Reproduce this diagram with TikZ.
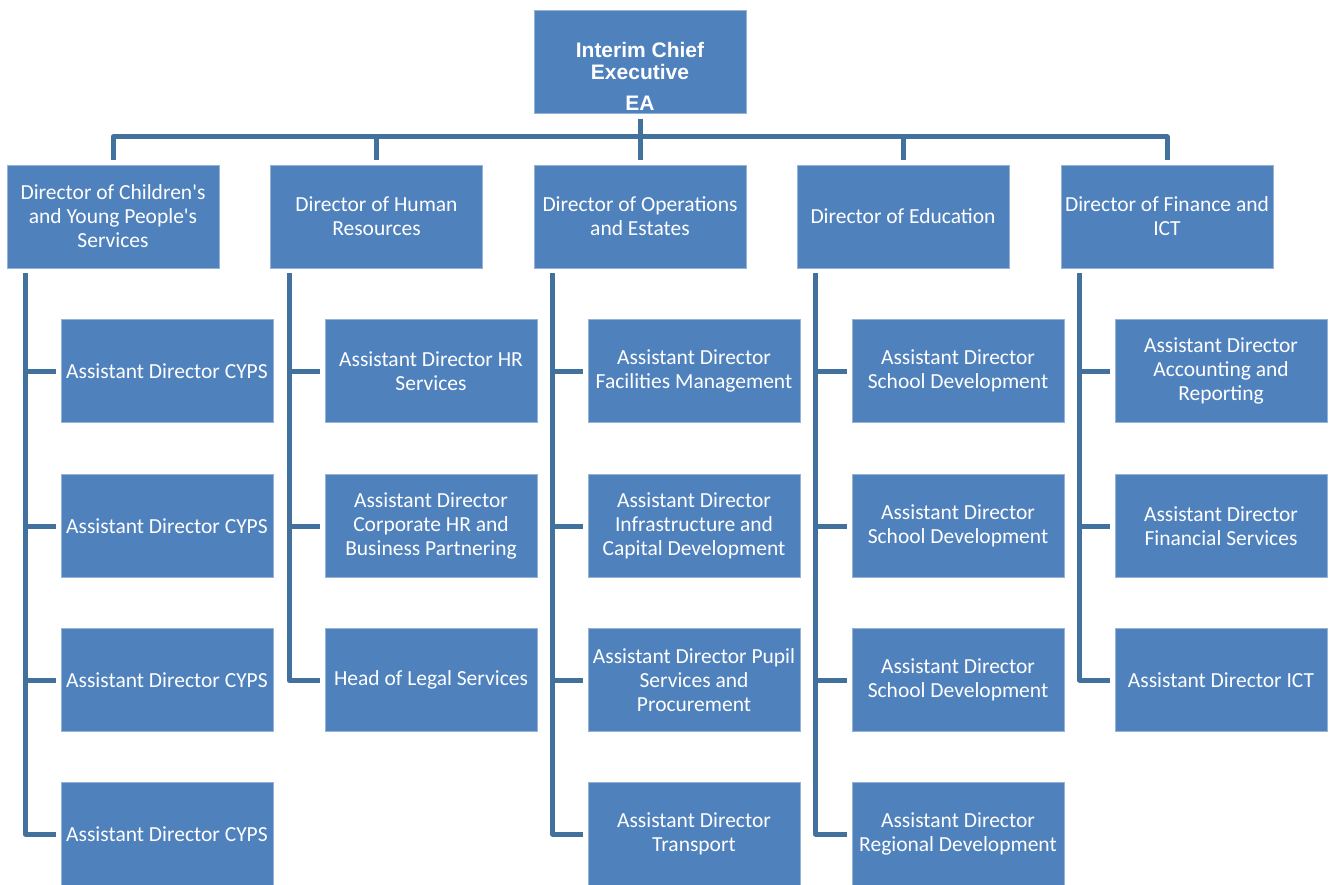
\documentclass[tikz,border=0pt]{standalone}
\usepackage{fontspec}
\setmainfont{Carlito}
\newfontfamily\headfont{Liberation Sans}
\usetikzlibrary{positioning}

\definecolor{boxblue}{HTML}{4F81BD}
\definecolor{linkblue}{HTML}{41719C}

\begin{document}
\begin{tikzpicture}[x=1pt, y=-1pt,
	unit/.style={fill=boxblue, draw=boxblue!60!white, line width=0.8pt,
		minimum width=212pt, minimum height=103pt, inner sep=0pt,
		text=white, align=center, font=\fontsize{21.5}{24}\selectfont},
	link/.style={draw=linkblue, line width=5pt, line join=round,
		shorten <=5pt, shorten >=5pt}]
	
	\useasboundingbox (0,0) rectangle (1333,884);
	
	% Chief executive
	\node[unit] (chief) at (640,62) {};
	\node[text=white, align=center, font=\headfont\bfseries\fontsize{21}{22.5}\selectfont]
		(chiefname) at ([yshift=-14pt]chief.center) {Interim Chief\\Executive\\[8pt]EA};
	
	% --- DIRECTORS ---
	\node[unit] (dir1) at (113,216.5) {Director of Children\textquotesingle s\\and Young People\textquotesingle s\\Services};
	\node[unit] (dir2) at (376.5,216.5) {Director of Human\\Resources};
	\node[unit] (dir3) at (640,216.5) {Director of Operations\\and Estates};
	\node[unit] (dir4) at (903,216.5) {Director of Education};
	\node[unit] (dir5) at (1167,216.5) {Director of Finance and\\ICT};
	
	\foreach \d in {1,...,5}
		\draw[link] (chief.south) -- ++(0,23) -| (dir\d.north);
	
	% --- ASSISTANT DIRECTORS ---
	% Children's and Young People's Services
	\foreach \r/\y in {1/371,2/526,3/680,4/834}
		\node[unit] (sub1-\r) at (167,\y) {Assistant Director CYPS};
	
	% Human Resources
	\node[unit] (sub2-1) at (431,371) {Assistant Director HR\\Services};
	\node[unit] (sub2-2) at (431,526) {Assistant Director\\Corporate HR and\\Business Partnering};
	\node[unit] (sub2-3) at (431,680) {Head of Legal Services};
	
	% Operations and Estates
	\node[unit] (sub3-1) at (694,371) {Assistant Director\\Facilities Management};
	\node[unit] (sub3-2) at (694,526) {Assistant Director\\Infrastructure and\\Capital Development};
	\node[unit] (sub3-3) at (694,680) {Assistant Director Pupil\\Services and\\Procurement};
	\node[unit] (sub3-4) at (694,834) {Assistant Director\\Transport};
	
	% Education
	\foreach \r/\y in {1/371,2/526,3/680}
		\node[unit] (sub4-\r) at (958,\y) {Assistant Director\\School Development};
	\node[unit] (sub4-4) at (958,834) {Assistant Director\\Regional Development};
	
	% Finance and ICT
	\node[unit] (sub5-1) at (1221,371) {Assistant Director\\Accounting and\\Reporting};
	\node[unit] (sub5-2) at (1221,526) {Assistant Director\\Financial Services};
	\node[unit] (sub5-3) at (1221,680) {Assistant Director ICT};
	
	% Spines from each director
	\foreach \d/\n in {1/4,2/3,3/4,4/4,5/3}
		\foreach \r in {1,...,\n}
			\draw[link] ([xshift=19pt]dir\d.south west) |- (sub\d-\r.west);
	
\end{tikzpicture}
\end{document}
